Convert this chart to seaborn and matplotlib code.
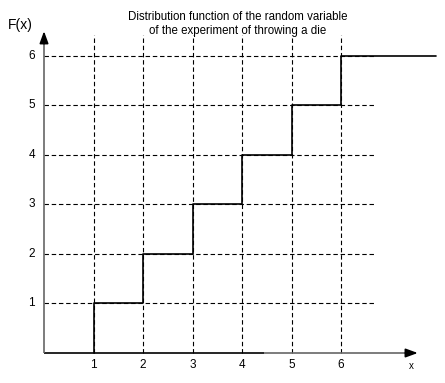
import matplotlib
matplotlib.use("Agg")
import matplotlib.pyplot as plt
import seaborn as sns
import numpy as np
import pandas as pd

sns.set_theme(style="white")
plt.rcParams['font.family'] = ['Liberation Sans', 'DejaVu Sans']

# data
outcomes = [1, 2, 3, 4, 5, 6]
cum_values = [1, 2, 3, 4, 5, 6]
x_ticklabels = ["1", "2", "3", "4", "5", "6"]
y_ticklabels = ["1", "2", "3", "4", "5", "6"]
title = "Distribution function of the random variable\nof the experiment of throwing a die"

fig = plt.figure(figsize=(4.45, 3.83), dpi=100)
ax = fig.add_axes([0, 0, 1, 1])
ax.set_xlim(-0.889, 8.10)
ax.set_ylim(-0.606, 7.13)
ax.axis("off")

# grid lines
grid_kw = dict(color="black", lw=0.8, ls=(0, (4, 2.5)))
for x in outcomes:
    ax.plot([x, x], [0, 6.42], **grid_kw)
for y in cum_values:
    ax.plot([0, 6.67], [y, y], **grid_kw)

# step path built from data
px, py = [outcomes[0]], [0]
for i, (x, v) in enumerate(zip(outcomes, cum_values)):
    px += [x]
    py += [v]
    nxt = outcomes[i + 1] if i + 1 < len(outcomes) else 7.92
    px += [nxt]
    py += [v]
df = pd.DataFrame({"x": px, "F": py, "o": range(len(px))})
sns.lineplot(data=df, x="x", y="F", sort=False, estimator=None, color="black",
             lw=1.2, ax=ax)

# axes with arrows
ax.plot([0, 4.44], [0, 0], color="black", lw=1.2, solid_capstyle="butt")
ax.plot([4.44, 7.4], [0, 0], color="#666666", lw=1.2, solid_capstyle="butt")
ax.plot([0, 0], [0, 6.35], color="#666666", lw=1.2, solid_capstyle="butt")
head = "-|>,head_length=0.6,head_width=0.22"
ax.annotate("", xy=(7.55, 0), xytext=(7.3, 0),
            arrowprops=dict(arrowstyle=head, color="black", lw=1.2, shrinkA=0, shrinkB=0))
ax.annotate("", xy=(0, 6.5), xytext=(0, 6.25),
            arrowprops=dict(arrowstyle=head, color="black", lw=1.2, shrinkA=0, shrinkB=0))

fs = 8.5
for x, lab in zip(outcomes, x_ticklabels):
    ax.text(x, -0.24, lab, ha="center", va="center", fontsize=fs, color="black")
for y, lab in zip(cum_values, y_ticklabels):
    ax.text(-0.25, y, lab, ha="center", va="center", fontsize=fs, color="black")
ax.text(7.42, -0.27, "x", ha="center", va="center", fontsize=fs - 1.5, color="black")
ax.text(-0.47, 6.62, "F(x)", ha="center", va="center", fontsize=10, color="black")
ax.text(3.92, 6.65, title, ha="center", va="center", fontsize=8.3, color="black",
        linespacing=1.2)

fig.savefig("out.png", dpi=100)
